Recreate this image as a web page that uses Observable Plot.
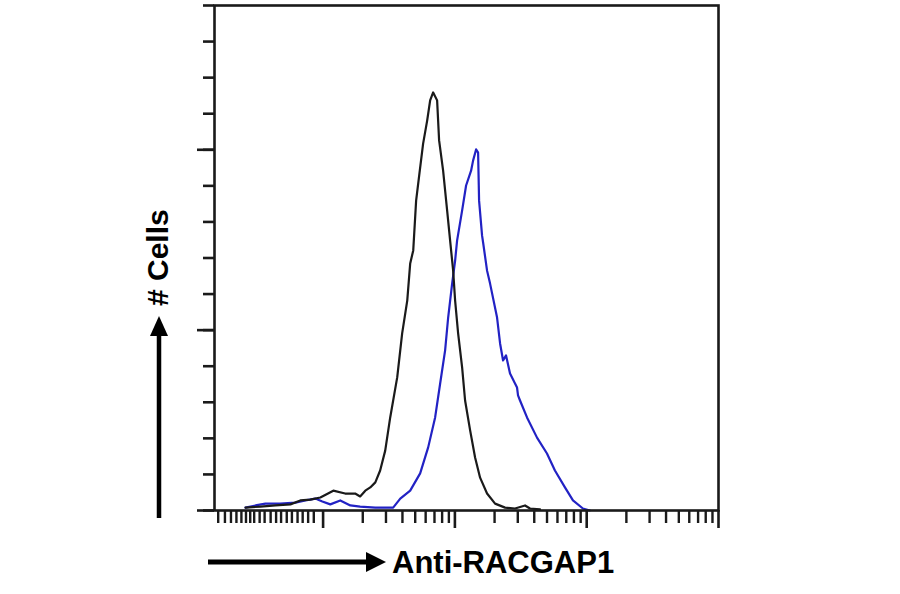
<!DOCTYPE html>
<html>
<head>
<meta charset="utf-8">
<script src="https://cdn.jsdelivr.net/npm/d3@7"></script>
<script src="https://cdn.jsdelivr.net/npm/@observablehq/plot@0.6"></script>
<style>
  body { margin: 0; background: #fff; }
  #chart { position: relative; width: 900px; height: 594px; }
</style>
</head>
<body>
<div id="chart"></div>
<script>
// Isotype control (black) histogram: fluorescence intensity vs cell count
const controlX = [2.58,3.35,4.35,5.65,6.72,8.0,9.53,11.95,14.7,17.5,19.1,20.9,22.8,24.9,27.1,29.6,32.3,36.5,39.8,43.5,45.8,48.3,50.8,53.6,57.4,61.6,64.9,68.4,73.3,75.9,81.4,87.3,92.0,97.0,100.4,105.8,113.5,119.5,130.5,142.3,155.3,175.4,201.8,240.3,285.9,340.5,371.5,442.3];
const controlY = [0.8,1.1,1.4,1.7,2.8,3.0,3.6,5.5,4.7,4.7,3.9,5.5,6.4,7.8,11.1,16.6,25.8,36.9,49.1,58.2,68.5,72.1,85.9,92.9,101.7,108.1,113.7,115.9,113.7,102.6,94.2,83.2,74.8,66.5,58.2,49.1,39.6,30.5,22.2,14.7,9.1,4.7,1.9,0.8,0.55,1.4,0.55,0.3];

// Anti-RACGAP1 (blue) histogram
const stainX = [2.58,3.07,3.65,4.74,6.16,7.34,8.73,9.87,11.34,13.5,16.1,19.1,24.9,34.0,38.5,45.8,54.5,62.7,70.8,77.3,84.3,88.9,95.3,100.4,103.9,113.5,121.6,132.7,137.4,144.8,150.0,152.6,160.8,163.7,175.4,184.9,208.9,220.2,232.0,244.4,262.0,285.9,296.1,301.3,312.0,352.5,419.8,499.6,574.1,684.0,786.6,935.6,1057];
const stainY = [0.8,1.4,1.9,1.9,2.2,2.8,3.3,2.5,1.7,2.8,1.4,1.1,0.8,0.8,3.3,5.5,10.3,17.5,25.8,35.2,44.4,53.5,62.9,69.3,74.8,83.2,90.1,94.2,97.0,100.1,99.2,85.9,76.2,74.3,66.5,62.9,53.5,46.3,41.6,43.0,38.0,35.2,34.1,31.9,30.5,25.8,20.2,15.8,11.1,6.4,2.8,0.55,0];

// Axis ticks (no tick labels in the original)
const yMinorTicks = [0,10,20,30,40,50,60,70,80,90,100,110,120,130,140];
const yMajorTicks = [0,50,100];
const xMinorTicks = [1.6,1.8,2,2.2,2.4,2.6,2.8,3,3.3,3.6,4,4.4,4.8,5.3,5.8,6.4,7,7.7,8.5,
  20,30,40,50,60,70,80,90,200,300,400,500,600,700,800,900,
  2000,3000,4000,5000,6000,7000,8000,9000];
const xMajorTicks = [10,100,1000,10000];

const xLabel = "Anti-RACGAP1";
const yLabel = "# Cells";

const control = controlX.map((x, i) => ({x, y: controlY[i]}));
const stain = stainX.map((x, i) => ({x, y: stainY[i]}));

const ink = "#1a1a1a";
const noText = () => "";

const chart = Plot.plot({
  width: 900,
  height: 594,
  marginLeft: 214,
  marginRight: 182,
  marginTop: 5,
  marginBottom: 84,
  style: {background: "#fff"},
  x: {type: "log", domain: [1.5, 10000]},
  y: {domain: [0, 140]},
  marks: [
    Plot.axisY(yMinorTicks, {anchor: "left", tickSize: 11, tickFormat: noText, label: null, stroke: ink, strokeWidth: 2.6}),
    Plot.axisY(yMajorTicks, {anchor: "left", tickSize: 17, tickFormat: noText, label: null, stroke: ink, strokeWidth: 2.6}),
    Plot.axisX(xMinorTicks, {anchor: "bottom", tickSize: 13, tickFormat: noText, label: null, stroke: ink, strokeWidth: 2.4}),
    Plot.axisX(xMajorTicks, {anchor: "bottom", tickSize: 18, tickFormat: noText, label: null, stroke: ink, strokeWidth: 2.6}),
    Plot.line(stain, {x: "x", y: "y", stroke: "#2222c4", strokeWidth: 2.2}),
    Plot.line(control, {x: "x", y: "y", stroke: ink, strokeWidth: 2.2}),
    Plot.frame({stroke: ink, strokeWidth: 2.6})
  ]
});

document.getElementById("chart").appendChild(chart);

// Axis annotations: arrows with bold titles
const svg = d3.select(chart);
const ann = svg.append("g").attr("text-anchor", "start");
// vertical arrow
ann.append("line").attr("x1", 159).attr("x2", 159).attr("y1", 518).attr("y2", 334)
  .attr("stroke", "#000").attr("stroke-width", 4.5);
ann.append("path").attr("d", "M159,316 L150,336 L168,336 Z").attr("fill", "#000");
ann.append("text").attr("transform", "translate(168,306) rotate(-90)")
  .attr("font-family", "Liberation Sans, Arial, sans-serif").attr("font-weight", "bold")
  .attr("font-size", 30).attr("fill", "#000").attr("text-anchor", "start").text(yLabel);
// horizontal arrow
ann.append("line").attr("x1", 208).attr("x2", 368).attr("y1", 562).attr("y2", 562)
  .attr("stroke", "#000").attr("stroke-width", 5);
ann.append("path").attr("d", "M386,562 L366,552 L366,572 Z").attr("fill", "#000");
ann.append("text").attr("x", 392).attr("y", 573)
  .attr("font-family", "Liberation Sans, Arial, sans-serif").attr("font-weight", "bold")
  .attr("font-size", 31).attr("fill", "#000").attr("text-anchor", "start").text(xLabel);
</script>
</body>
</html>
